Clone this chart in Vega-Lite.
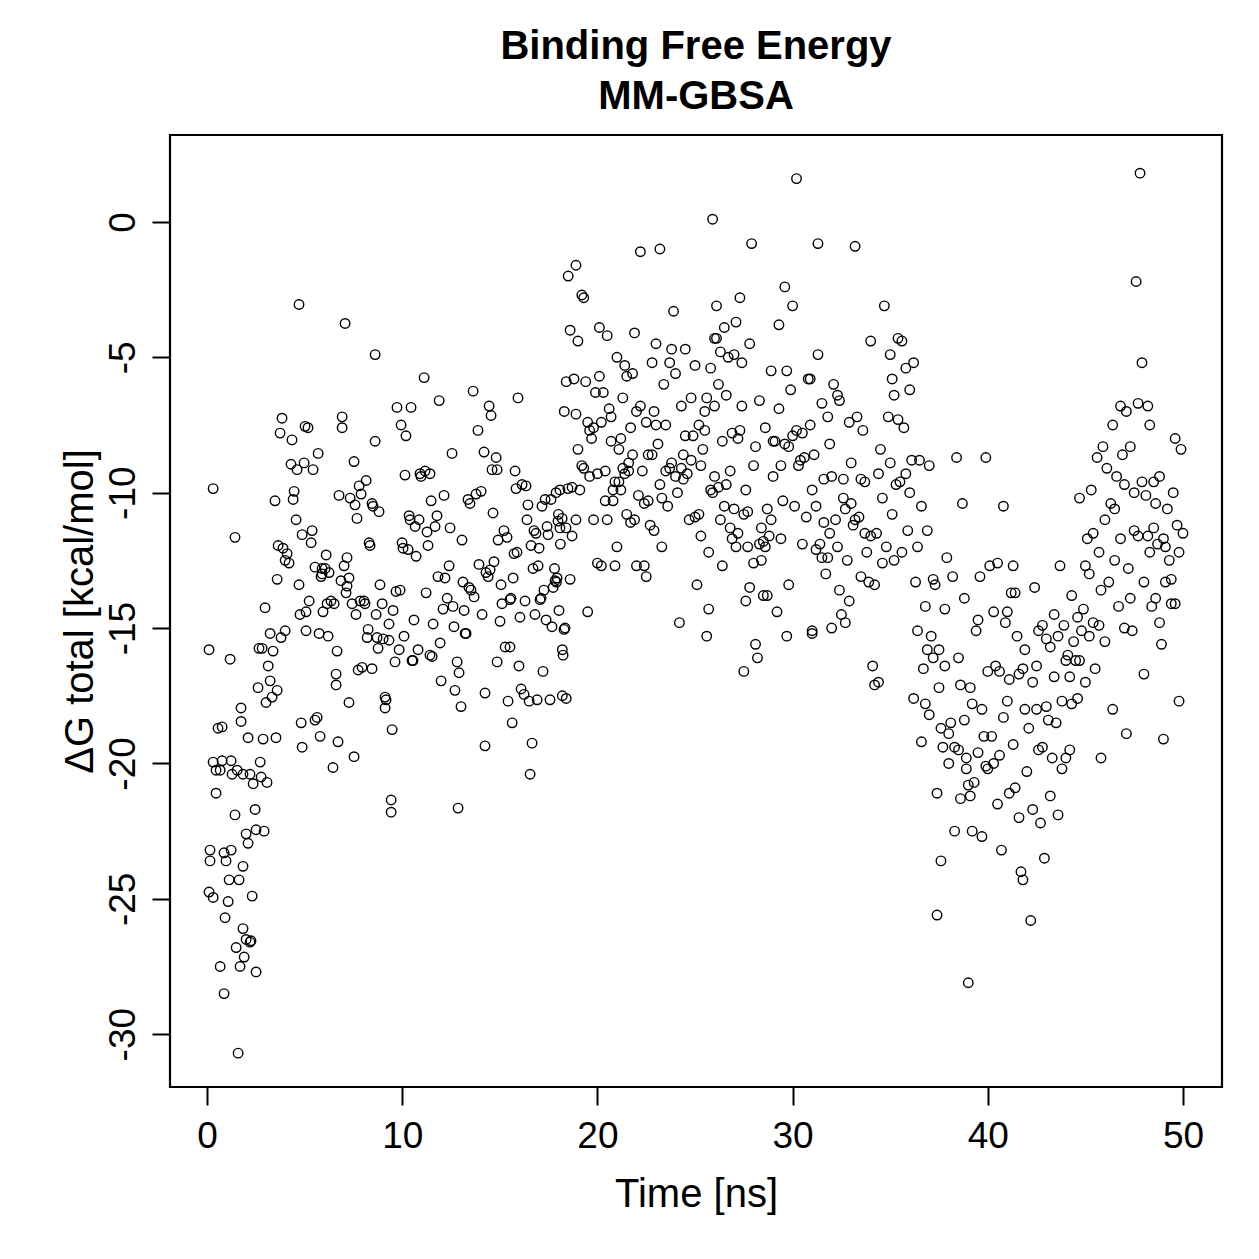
{
"$schema":"https://vega.github.io/schema/vega-lite/v6.json",
"width":1052,"height":952,
"autosize":{"type":"none"},
"padding":{"left":170,"top":135,"right":37,"bottom":172},
"background":"white",
"config":{"view":{"stroke":"black","strokeWidth":2.2},"font":"Liberation Sans"},
"title":{"text":["Binding Free Energy","MM-GBSA"],"fontSize":40,"fontWeight":"bold","font":"Liberation Sans","color":"black","anchor":"middle","lineHeight":50,"offset":18},
"data":{"values":[
{"t":0.10,"g":-15.8},{"t":0.31,"g":-9.85},{"t":0.10,"g":-24.75},{"t":0.15,"g":-23.2},{"t":0.15,"g":-23.6},{"t":0.31,"g":-24.95},{"t":0.31,"g":-19.95},{"t":0.46,"g":-20.25},{"t":0.46,"g":-21.1},{"t":0.67,"g":-20.25},{"t":0.67,"g":-27.5},{"t":0.56,"g":-18.7},{"t":0.77,"g":-18.65},{"t":0.77,"g":-19.9},{"t":0.87,"g":-28.5},{"t":0.92,"g":-25.7},{"t":0.87,"g":-23.3},{"t":0.97,"g":-23.6},{"t":1.08,"g":-25.1},{"t":1.13,"g":-24.3},{"t":1.18,"g":-16.15},{"t":1.23,"g":-23.2},{"t":1.23,"g":-19.9},{"t":1.28,"g":-20.4},{"t":1.43,"g":-11.65},{"t":1.43,"g":-21.9},{"t":1.49,"g":-26.8},{"t":1.54,"g":-20.25},{"t":1.59,"g":-30.7},{"t":1.69,"g":-27.5},{"t":1.64,"g":-24.3},{"t":1.74,"g":-18.45},{"t":1.74,"g":-17.95},{"t":1.84,"g":-26.1},{"t":1.84,"g":-23.8},{"t":2.00,"g":-22.6},{"t":1.84,"g":-20.4},{"t":1.90,"g":-27.15},{"t":2.00,"g":-26.5},{"t":2.10,"g":-22.95},{"t":2.10,"g":-19.05},{"t":2.20,"g":-20.4},{"t":2.20,"g":-26.6},{"t":2.25,"g":-26.55},{"t":2.31,"g":-24.9},{"t":2.36,"g":-20.75},{"t":2.46,"g":-21.7},{"t":2.51,"g":-22.45},{"t":2.51,"g":-27.7},{"t":2.61,"g":-17.2},{"t":2.66,"g":-15.75},{"t":2.72,"g":-19.95},{"t":2.77,"g":-20.5},{"t":2.87,"g":-19.1},{"t":2.92,"g":-22.5},{"t":2.82,"g":-15.75},{"t":2.97,"g":-14.25},{"t":3.02,"g":-17.75},{"t":3.07,"g":-20.7},{"t":3.13,"g":-16.4},{"t":3.23,"g":-15.2},{"t":3.23,"g":-16.95},{"t":3.38,"g":-15.85},{"t":3.33,"g":-17.55},{"t":3.48,"g":-10.3},{"t":3.59,"g":-17.3},{"t":3.53,"g":-19.05},{"t":3.59,"g":-13.2},{"t":3.64,"g":-11.95},{"t":3.74,"g":-7.8},{"t":3.79,"g":-15.35},{"t":3.84,"g":-7.25},{"t":3.89,"g":-12.05},{"t":4.00,"g":-12.5},{"t":4.10,"g":-12.25},{"t":4.00,"g":-15.1},{"t":4.20,"g":-12.6},{"t":4.30,"g":-8.95},{"t":4.35,"g":-8.05},{"t":4.41,"g":-10.25},{"t":4.46,"g":-9.95},{"t":4.56,"g":-11.0},{"t":4.61,"g":-9.15},{"t":4.71,"g":-3.05},{"t":4.71,"g":-13.4},{"t":4.76,"g":-14.5},{"t":4.82,"g":-18.5},{"t":4.87,"g":-11.55},{"t":4.87,"g":-19.4},{"t":4.97,"g":-8.9},{"t":5.02,"g":-7.55},{"t":5.07,"g":-15.1},{"t":5.07,"g":-14.4},{"t":5.17,"g":-7.6},{"t":5.23,"g":-14.0},{"t":5.33,"g":-11.85},{"t":5.38,"g":-11.4},{"t":5.43,"g":-9.15},{"t":5.53,"g":-18.4},{"t":5.53,"g":-12.75},{"t":5.64,"g":-18.3},{"t":5.69,"g":-8.55},{"t":5.74,"g":-15.2},{"t":5.79,"g":-19.0},{"t":5.84,"g":-13.1},{"t":5.89,"g":-13.0},{"t":5.89,"g":-12.8},{"t":5.94,"g":-14.4},{"t":6.05,"g":-12.8},{"t":6.10,"g":-12.3},{"t":6.15,"g":-14.1},{"t":6.20,"g":-15.3},{"t":6.25,"g":-12.95},{"t":6.35,"g":-14.0},{"t":6.45,"g":-20.15},{"t":6.51,"g":-14.1},{"t":6.61,"g":-16.7},{"t":6.61,"g":-17.1},{"t":6.66,"g":-15.85},{"t":6.71,"g":-19.2},{"t":6.76,"g":-10.1},{"t":6.86,"g":-13.25},{"t":6.92,"g":-7.2},{"t":6.92,"g":-7.6},{"t":7.02,"g":-12.7},{"t":7.07,"g":-3.75},{"t":7.12,"g":-13.7},{"t":7.17,"g":-13.45},{"t":7.17,"g":-12.4},{"t":7.27,"g":-13.15},{"t":7.27,"g":-17.75},{"t":7.33,"g":-10.2},{"t":7.43,"g":-14.1},{"t":7.53,"g":-8.85},{"t":7.53,"g":-19.75},{"t":7.58,"g":-10.45},{"t":7.63,"g":-14.5},{"t":7.68,"g":-10.95},{"t":7.74,"g":-16.55},{"t":7.79,"g":-9.75},{"t":7.84,"g":-14.0},{"t":7.89,"g":-10.05},{"t":7.94,"g":-16.45},{"t":8.04,"g":-14.0},{"t":8.09,"g":-14.1},{"t":8.15,"g":-9.55},{"t":8.20,"g":-15.35},{"t":8.25,"g":-15.05},{"t":8.30,"g":-11.85},{"t":8.35,"g":-11.95},{"t":8.45,"g":-10.4},{"t":8.45,"g":-16.5},{"t":8.50,"g":-10.5},{"t":8.61,"g":-4.9},{"t":8.61,"g":-8.1},{"t":8.66,"g":-14.5},{"t":8.71,"g":-15.35},{"t":8.76,"g":-15.75},{"t":8.81,"g":-10.7},{"t":8.86,"g":-13.4},{"t":8.97,"g":-14.1},{"t":9.02,"g":-15.4},{"t":9.12,"g":-17.55},{"t":9.12,"g":-17.95},{"t":9.17,"g":-17.65},{"t":9.32,"g":-14.85},{"t":9.32,"g":-15.45},{"t":9.43,"g":-21.35},{"t":9.43,"g":-21.8},{"t":9.48,"g":-18.75},{"t":9.53,"g":-14.35},{"t":9.63,"g":-16.25},{"t":9.68,"g":-13.65},{"t":9.73,"g":-6.85},{"t":9.84,"g":-15.8},{"t":9.89,"g":-13.6},{"t":9.94,"g":-7.5},{"t":9.99,"g":-11.85},{"t":10.04,"g":-12.05},{"t":10.09,"g":-15.3},{"t":10.14,"g":-9.35},{"t":10.19,"g":-7.9},{"t":10.30,"g":-12.1},{"t":10.35,"g":-10.85},{"t":10.40,"g":-11.0},{"t":10.45,"g":-6.85},{"t":10.50,"g":-16.2},{"t":10.55,"g":-16.2},{"t":10.60,"g":-14.7},{"t":10.66,"g":-11.25},{"t":10.71,"g":-12.35},{"t":10.81,"g":-15.8},{"t":10.86,"g":-11.0},{"t":10.91,"g":-9.3},{"t":10.96,"g":-9.4},{"t":11.12,"g":-5.75},{"t":11.17,"g":-9.2},{"t":11.22,"g":-13.7},{"t":11.27,"g":-11.45},{"t":11.32,"g":-11.95},{"t":11.42,"g":-9.3},{"t":11.42,"g":-16.0},{"t":11.48,"g":-10.3},{"t":11.53,"g":-16.05},{"t":11.58,"g":-14.85},{"t":11.68,"g":-11.25},{"t":11.78,"g":-10.85},{"t":11.83,"g":-13.1},{"t":11.89,"g":-6.6},{"t":11.94,"g":-15.55},{"t":11.99,"g":-16.95},{"t":12.09,"g":-14.3},{"t":12.14,"g":-10.1},{"t":12.19,"g":-13.15},{"t":12.30,"g":-13.9},{"t":12.40,"g":-12.7},{"t":12.45,"g":-11.3},{"t":12.55,"g":-8.55},{"t":12.60,"g":-14.2},{"t":12.65,"g":-14.95},{"t":12.70,"g":-17.3},{"t":12.81,"g":-16.25},{"t":12.86,"g":-21.65},{"t":12.91,"g":-16.65},{"t":13.01,"g":-17.9},{"t":13.06,"g":-11.75},{"t":13.11,"g":-13.3},{"t":13.17,"g":-14.35},{"t":13.22,"g":-15.2},{"t":13.27,"g":-15.2},{"t":13.37,"g":-10.25},{"t":13.42,"g":-13.5},{"t":13.47,"g":-10.4},{"t":13.52,"g":-13.6},{"t":13.63,"g":-6.25},{"t":13.68,"g":-13.85},{"t":13.78,"g":-10.05},{"t":13.88,"g":-7.7},{"t":13.93,"g":-12.65},{"t":14.04,"g":-9.95},{"t":14.09,"g":-14.5},{"t":14.19,"g":-8.5},{"t":14.24,"g":-19.35},{"t":14.24,"g":-17.4},{"t":14.29,"g":-12.95},{"t":14.40,"g":-13.1},{"t":14.45,"g":-6.8},{"t":14.50,"g":-12.85},{"t":14.55,"g":-7.15},{"t":14.60,"g":-9.15},{"t":14.65,"g":-10.75},{"t":14.70,"g":-12.55},{"t":14.81,"g":-8.7},{"t":14.86,"g":-9.15},{"t":14.86,"g":-16.25},{"t":14.91,"g":-11.75},{"t":15.01,"g":-14.75},{"t":15.06,"g":-13.4},{"t":15.11,"g":-14.1},{"t":15.21,"g":-11.4},{"t":15.27,"g":-15.7},{"t":15.37,"g":-11.65},{"t":15.42,"g":-17.7},{"t":15.52,"g":-13.95},{"t":15.52,"g":-15.7},{"t":15.57,"g":-13.9},{"t":15.63,"g":-18.5},{"t":15.68,"g":-13.15},{"t":15.73,"g":-12.25},{"t":15.78,"g":-9.2},{"t":15.83,"g":-9.85},{"t":15.88,"g":-12.2},{"t":15.93,"g":-6.5},{"t":15.98,"g":-16.4},{"t":16.03,"g":-14.6},{"t":16.09,"g":-17.25},{"t":16.14,"g":-9.7},{"t":16.24,"g":-17.45},{"t":16.29,"g":-14.0},{"t":16.34,"g":-9.75},{"t":16.39,"g":-11.0},{"t":16.44,"g":-10.45},{"t":16.50,"g":-17.7},{"t":16.55,"g":-20.4},{"t":16.60,"g":-11.95},{"t":16.65,"g":-19.25},{"t":16.70,"g":-12.8},{"t":16.75,"g":-11.4},{"t":16.80,"g":-14.5},{"t":16.85,"g":-11.5},{"t":16.91,"g":-17.65},{"t":16.96,"g":-12.7},{"t":17.01,"g":-12.05},{"t":17.06,"g":-13.95},{"t":17.11,"g":-13.9},{"t":17.16,"g":-10.5},{"t":17.21,"g":-16.6},{"t":17.26,"g":-13.6},{"t":17.32,"g":-10.25},{"t":17.37,"g":-14.7},{"t":17.42,"g":-11.25},{"t":17.47,"g":-11.55},{"t":17.57,"g":-17.65},{"t":17.62,"g":-10.25},{"t":17.67,"g":-14.95},{"t":17.73,"g":-13.5},{"t":17.83,"g":-13.25},{"t":17.88,"g":-10.0},{"t":17.93,"g":-13.15},{"t":17.98,"g":-11.05},{"t":18.03,"g":-14.35},{"t":18.08,"g":-11.3},{"t":18.08,"g":-9.9},{"t":18.19,"g":-10.95},{"t":18.24,"g":-16.0},{"t":18.29,"g":-15.05},{"t":18.34,"g":-15.0},{"t":18.39,"g":-11.3},{"t":18.49,"g":-9.85},
{"t":18.3,"g":-7.0},{"t":18.4,"g":-5.9},{"t":18.5,"g":-2.0},{"t":18.6,"g":-4.0},{"t":18.7,"g":-11.6},{"t":18.8,"g":-5.8},{"t":18.9,"g":-1.6},{"t":18.9,"g":-7.1},{"t":19.0,"g":-4.4},{"t":19.1,"g":-9.9},{"t":19.2,"g":-2.7},{"t":19.3,"g":-2.8},{"t":19.3,"g":-9.1},{"t":19.4,"g":-5.9},{"t":19.5,"g":-7.4},{"t":19.5,"g":-14.4},{"t":19.6,"g":-9.4},{"t":19.6,"g":-7.7},{"t":19.7,"g":-8.0},{"t":19.8,"g":-11.0},{"t":19.8,"g":-7.6},{"t":19.9,"g":-6.3},{"t":20.0,"g":-12.6},{"t":18.2,"g":-15.8},{"t":18.0,"g":-10.8},{"t":18.1,"g":-11.9},{"t":17.9,"g":-13.3},{"t":17.8,"g":-12.8},{"t":18.6,"g":-13.2},{"t":18.4,"g":-17.6},{"t":18.2,"g":-17.5},{"t":19.2,"g":-9.0},{"t":18.9,"g":-11.0},{"t":18.7,"g":-9.8},{"t":19.0,"g":-8.4},{"t":20.0,"g":-9.3},
{"t":20.1,"g":-3.9},{"t":20.1,"g":-5.7},{"t":20.2,"g":-7.4},{"t":20.2,"g":-12.7},{"t":20.3,"g":-6.3},{"t":20.4,"g":-10.3},{"t":20.4,"g":-9.2},{"t":20.5,"g":-11.0},{"t":20.5,"g":-4.2},{"t":20.6,"g":-6.9},{"t":20.7,"g":-8.1},{"t":20.7,"g":-7.2},{"t":20.8,"g":-9.9},{"t":20.8,"g":-10.3},{"t":20.9,"g":-9.6},{"t":21.0,"g":-5.0},{"t":21.0,"g":-12.0},{"t":21.1,"g":-9.6},{"t":21.1,"g":-8.4},{"t":21.2,"g":-8.0},{"t":21.3,"g":-6.5},{"t":21.3,"g":-9.1},{"t":21.4,"g":-5.3},{"t":21.4,"g":-9.3},{"t":21.5,"g":-10.8},{"t":21.5,"g":-5.7},{"t":21.6,"g":-9.2},{"t":21.7,"g":-11.1},{"t":21.7,"g":-7.6},{"t":21.8,"g":-8.6},{"t":21.9,"g":-4.1},{"t":21.9,"g":-11.0},{"t":22.0,"g":-7.0},{"t":22.0,"g":-12.7},{"t":20.9,"g":-12.7},{"t":21.2,"g":-9.9},{"t":21.6,"g":-8.9},{"t":21.8,"g":-5.6},
{"t":22.1,"g":-10.1},{"t":22.2,"g":-1.1},{"t":22.2,"g":-6.8},{"t":22.3,"g":-9.2},{"t":22.4,"g":-10.4},{"t":22.4,"g":-12.7},{"t":22.5,"g":-7.4},{"t":22.5,"g":-13.1},{"t":22.6,"g":-8.6},{"t":22.7,"g":-11.2},{"t":22.8,"g":-5.2},{"t":22.8,"g":-8.6},{"t":22.9,"g":-11.4},{"t":23.0,"g":-4.5},{"t":23.0,"g":-7.5},{"t":23.1,"g":-8.2},{"t":23.2,"g":-1.0},{"t":23.2,"g":-9.7},{"t":23.3,"g":-10.2},{"t":23.4,"g":-6.0},{"t":23.5,"g":-7.5},{"t":23.5,"g":-9.2},{"t":23.6,"g":-10.5},{"t":23.7,"g":-5.2},{"t":23.8,"g":-4.7},{"t":23.8,"g":-8.9},{"t":23.9,"g":-3.3},{"t":24.0,"g":-9.4},{"t":24.0,"g":-5.6},{"t":24.1,"g":-10.0},{"t":22.6,"g":-10.3},{"t":23.3,"g":-12.0},{"t":23.7,"g":-9.1},{"t":22.9,"g":-7.0},
{"t":24.2,"g":-14.8},{"t":24.3,"g":-9.1},{"t":24.3,"g":-6.8},{"t":24.4,"g":-9.5},{"t":24.5,"g":-4.7},{"t":24.5,"g":-7.9},{"t":24.6,"g":-9.3},{"t":24.7,"g":-11.0},{"t":24.8,"g":-8.8},{"t":24.9,"g":-7.9},{"t":25.0,"g":-5.3},{"t":25.0,"g":-10.9},{"t":25.1,"g":-13.4},{"t":25.2,"g":-7.5},{"t":25.2,"g":-10.8},{"t":25.3,"g":-9.0},{"t":25.4,"g":-8.4},{"t":25.5,"g":-7.0},{"t":25.6,"g":-6.5},{"t":25.6,"g":-15.3},{"t":25.7,"g":-12.2},{"t":25.7,"g":-14.3},{"t":25.8,"g":-9.9},{"t":25.8,"g":-5.4},{"t":25.9,"g":0.1},{"t":25.9,"g":-10.0},{"t":26.0,"g":-6.8},{"t":26.0,"g":-9.4},{"t":24.4,"g":-8.6},{"t":24.8,"g":-6.5},{"t":25.3,"g":-11.6},{"t":25.5,"g":-7.7},{"t":26.0,"g":-4.3},
{"t":26.1,"g":-3.1},{"t":26.1,"g":-4.3},{"t":26.2,"g":-9.8},{"t":26.3,"g":-11.0},{"t":26.3,"g":-4.8},{"t":26.4,"g":-8.1},{"t":26.4,"g":-12.7},{"t":26.5,"g":-3.9},{"t":26.6,"g":-6.4},{"t":26.6,"g":-9.7},{"t":26.7,"g":-5.0},{"t":26.8,"g":-9.2},{"t":26.8,"g":-11.3},{"t":26.9,"g":-7.8},{"t":27.0,"g":-4.9},{"t":27.0,"g":-10.6},{"t":27.1,"g":-3.7},{"t":27.1,"g":-12.0},{"t":27.2,"g":-8.0},{"t":27.2,"g":-11.5},{"t":27.3,"g":-2.8},{"t":27.3,"g":-7.7},{"t":27.4,"g":-5.2},{"t":27.5,"g":-16.6},{"t":27.5,"g":-10.8},{"t":27.6,"g":-14.0},{"t":27.7,"g":-12.0},{"t":27.7,"g":-10.7},{"t":27.8,"g":-13.5},{"t":27.8,"g":-4.5},{"t":27.9,"g":-0.8},{"t":28.0,"g":-9.0},{"t":28.0,"g":-12.6},{"t":28.1,"g":-8.3},{"t":26.2,"g":-6.0},{"t":26.5,"g":-10.5},{"t":26.9,"g":-11.7},{"t":27.4,"g":-6.8},{"t":27.6,"g":-9.9},
{"t":28.1,"g":-15.6},{"t":28.2,"g":-16.1},{"t":28.3,"g":-11.9},{"t":28.3,"g":-6.6},{"t":28.4,"g":-11.3},{"t":28.5,"g":-13.8},{"t":28.5,"g":-11.8},{"t":28.6,"g":-7.6},{"t":28.7,"g":-10.6},{"t":28.7,"g":-13.8},{"t":28.8,"g":-11.6},{"t":28.9,"g":-5.5},{"t":28.9,"g":-11.0},{"t":29.0,"g":-8.1},{"t":29.1,"g":-8.1},{"t":29.2,"g":-14.4},{"t":29.3,"g":-3.8},{"t":29.3,"g":-6.9},{"t":29.4,"g":-9.0},{"t":29.5,"g":-10.3},{"t":29.6,"g":-2.4},{"t":29.6,"g":-8.2},{"t":29.7,"g":-5.5},{"t":29.7,"g":-15.3},{"t":29.8,"g":-13.4},{"t":29.9,"g":-6.2},{"t":30.0,"g":-3.1},{"t":30.0,"g":-7.9},{"t":30.1,"g":-10.5},{"t":28.6,"g":-12.0},{"t":29.0,"g":-9.4},{"t":29.4,"g":-11.7},{"t":29.8,"g":-8.3},{"t":28.4,"g":-12.5},
{"t":30.2,"g":1.6},{"t":30.2,"g":-7.7},{"t":30.3,"g":-9.0},{"t":30.4,"g":-8.8},{"t":30.5,"g":-11.9},{"t":30.5,"g":-7.8},{"t":30.6,"g":-8.7},{"t":30.7,"g":-10.9},{"t":30.8,"g":-5.8},{"t":30.9,"g":-5.8},{"t":31.0,"g":-15.1},{"t":31.0,"g":-15.2},{"t":31.1,"g":-8.6},{"t":31.2,"g":-12.1},{"t":31.3,"g":-0.8},{"t":31.3,"g":-4.9},{"t":31.4,"g":-11.9},{"t":31.5,"g":-6.7},{"t":31.6,"g":-9.5},{"t":31.7,"g":-13.0},{"t":31.8,"g":-12.4},{"t":31.8,"g":-7.2},{"t":31.9,"g":-8.2},{"t":32.0,"g":-9.4},{"t":32.0,"g":-15.0},{"t":31.0,"g":-9.9},{"t":31.2,"g":-10.5},{"t":31.6,"g":-11.1},{"t":31.9,"g":-11.5},{"t":30.9,"g":-7.5},{"t":31.5,"g":-12.4},
{"t":32.1,"g":-6.0},{"t":32.2,"g":-11.0},{"t":32.3,"g":-6.4},{"t":32.3,"g":-12.0},{"t":32.4,"g":-6.6},{"t":32.4,"g":-13.6},{"t":32.5,"g":-14.5},{"t":32.6,"g":-9.5},{"t":32.7,"g":-14.8},{"t":32.7,"g":-10.6},{"t":32.8,"g":-12.5},{"t":32.9,"g":-7.4},{"t":33.0,"g":-8.9},{"t":33.0,"g":-10.4},{"t":33.1,"g":-11.2},{"t":33.2,"g":-11.0},{"t":33.2,"g":-0.9},{"t":33.3,"g":-7.2},{"t":33.4,"g":-10.9},{"t":33.5,"g":-9.5},{"t":33.6,"g":-7.7},{"t":33.7,"g":-9.6},{"t":33.8,"g":-12.2},{"t":33.9,"g":-13.3},{"t":34.0,"g":-11.6},{"t":34.0,"g":-4.4},{"t":33.5,"g":-13.1},{"t":32.9,"g":-14.0},{"t":32.6,"g":-10.2},{"t":33.7,"g":-11.5},
{"t":34.1,"g":-16.4},{"t":34.2,"g":-17.1},{"t":34.2,"g":-13.4},{"t":34.3,"g":-11.5},{"t":34.4,"g":-9.3},{"t":34.4,"g":-17.0},{"t":34.5,"g":-8.4},{"t":34.6,"g":-10.2},{"t":34.7,"g":-3.1},{"t":34.8,"g":-12.0},{"t":34.9,"g":-7.2},{"t":35.0,"g":-8.9},{"t":35.0,"g":-4.9},{"t":35.1,"g":-10.8},{"t":35.2,"g":-6.4},{"t":35.2,"g":-12.5},{"t":35.3,"g":-9.7},{"t":35.4,"g":-4.3},{"t":35.4,"g":-7.3},{"t":35.5,"g":-9.6},{"t":35.6,"g":-12.2},{"t":35.7,"g":-7.6},{"t":35.8,"g":-9.3},{"t":35.8,"g":-5.4},{"t":35.9,"g":-11.4},{"t":36.0,"g":-6.2},{"t":36.1,"g":-8.8},{"t":34.6,"g":-12.6},{"t":35.1,"g":-5.8},{"t":35.6,"g":-4.4},{"t":36.0,"g":-10.0},
{"t":36.2,"g":-5.2},{"t":36.2,"g":-17.6},{"t":36.3,"g":-13.3},{"t":36.4,"g":-15.1},{"t":36.5,"g":-8.8},{"t":36.6,"g":-10.5},{"t":36.6,"g":-19.2},{"t":36.7,"g":-16.5},{"t":36.8,"g":-14.2},{"t":36.8,"g":-17.8},{"t":36.9,"g":-11.4},{"t":37.0,"g":-9.0},{"t":37.0,"g":-18.2},{"t":37.1,"g":-15.3},{"t":37.2,"g":-13.2},{"t":37.2,"g":-16.1},{"t":37.3,"g":-13.4},{"t":37.4,"g":-25.6},{"t":37.4,"g":-21.1},{"t":37.5,"g":-15.8},{"t":37.6,"g":-18.7},{"t":37.6,"g":-23.6},{"t":37.7,"g":-19.4},{"t":37.8,"g":-14.3},{"t":37.8,"g":-16.4},{"t":37.9,"g":-12.4},{"t":38.0,"g":-18.9},{"t":38.0,"g":-20.0},{"t":36.4,"g":-12.0},{"t":36.9,"g":-15.8},{"t":37.5,"g":-17.2},{"t":38.1,"g":-18.5},
{"t":38.2,"g":-13.1},{"t":38.3,"g":-19.4},{"t":38.3,"g":-22.5},{"t":38.4,"g":-8.7},{"t":38.5,"g":-16.1},{"t":38.5,"g":-19.5},{"t":38.6,"g":-21.3},{"t":38.7,"g":-10.4},{"t":38.8,"g":-18.4},{"t":38.8,"g":-13.9},{"t":38.9,"g":-20.2},{"t":39.0,"g":-28.1},{"t":39.0,"g":-20.8},{"t":39.1,"g":-17.2},{"t":39.2,"g":-22.5},{"t":39.2,"g":-17.8},{"t":39.3,"g":-20.7},{"t":39.4,"g":-15.1},{"t":39.5,"g":-14.7},{"t":39.5,"g":-19.6},{"t":39.6,"g":-13.1},{"t":39.7,"g":-22.7},{"t":39.8,"g":-19.0},{"t":39.9,"g":-8.7},{"t":39.9,"g":-20.1},{"t":40.0,"g":-16.6},{"t":40.0,"g":-20.2},{"t":38.6,"g":-17.1},{"t":39.1,"g":-21.2},{"t":39.7,"g":-18.0},{"t":38.9,"g":-19.8},{"t":40.1,"g":-12.7},
{"t":40.2,"g":-19.0},{"t":40.3,"g":-14.4},{"t":40.3,"g":-20.0},{"t":40.4,"g":-16.4},{"t":40.5,"g":-21.5},{"t":40.6,"g":-16.6},{"t":40.6,"g":-19.7},{"t":40.7,"g":-23.2},{"t":40.8,"g":-10.5},{"t":40.8,"g":-18.3},{"t":40.9,"g":-14.8},{"t":41.0,"g":-17.7},{"t":41.1,"g":-21.1},{"t":41.1,"g":-16.9},{"t":41.2,"g":-13.7},{"t":41.3,"g":-19.3},{"t":41.3,"g":-12.7},{"t":41.4,"g":-20.9},{"t":41.5,"g":-15.3},{"t":41.6,"g":-16.7},{"t":41.6,"g":-22.0},{"t":41.7,"g":-24.0},{"t":41.8,"g":-24.3},{"t":41.8,"g":-16.5},{"t":41.9,"g":-15.8},{"t":42.0,"g":-20.3},{"t":40.5,"g":-12.6},{"t":41.0,"g":-14.4},{"t":41.4,"g":-13.7},{"t":41.9,"g":-18.0},
{"t":42.1,"g":-18.7},{"t":42.2,"g":-25.8},{"t":42.3,"g":-21.7},{"t":42.3,"g":-17.0},{"t":42.4,"g":-13.5},{"t":42.5,"g":-16.4},{"t":42.6,"g":-19.5},{"t":42.6,"g":-15.1},{"t":42.7,"g":-22.2},{"t":42.8,"g":-19.4},{"t":42.9,"g":-23.5},{"t":43.0,"g":-15.4},{"t":43.0,"g":-17.9},{"t":43.1,"g":-18.4},{"t":43.2,"g":-15.7},{"t":43.2,"g":-21.2},{"t":43.3,"g":-19.8},{"t":43.4,"g":-14.5},{"t":43.5,"g":-18.5},{"t":43.6,"g":-15.3},{"t":43.6,"g":-21.9},{"t":43.7,"g":-12.7},{"t":43.8,"g":-17.7},{"t":43.8,"g":-20.2},{"t":43.9,"g":-14.9},{"t":44.0,"g":-16.2},{"t":42.8,"g":-14.9},{"t":43.4,"g":-16.8},{"t":44.0,"g":-19.8},{"t":42.5,"g":-18.0},
{"t":44.1,"g":-16.0},{"t":44.2,"g":-19.5},{"t":44.3,"g":-13.8},{"t":44.3,"g":-17.8},{"t":44.4,"g":-15.5},{"t":44.5,"g":-16.2},{"t":44.6,"g":-14.6},{"t":44.7,"g":-10.2},{"t":44.7,"g":-16.2},{"t":44.8,"g":-15.1},{"t":44.9,"g":-14.3},{"t":45.0,"g":-12.7},{"t":45.0,"g":-17.0},{"t":45.1,"g":-11.7},{"t":45.2,"g":-15.3},{"t":45.3,"g":-9.9},{"t":45.4,"g":-14.8},{"t":45.4,"g":-11.5},{"t":45.5,"g":-16.5},{"t":45.6,"g":-8.7},{"t":45.7,"g":-12.2},{"t":45.8,"g":-19.8},{"t":45.8,"g":-13.6},{"t":45.9,"g":-8.3},{"t":46.0,"g":-11.0},{"t":44.6,"g":-17.6},{"t":45.2,"g":-13.0},{"t":45.7,"g":-14.9},{"t":46.0,"g":-15.5},{"t":44.2,"g":-16.8},
{"t":46.1,"g":-9.1},{"t":46.2,"g":-13.3},{"t":46.3,"g":-10.4},{"t":46.4,"g":-18.0},{"t":46.4,"g":-7.5},{"t":46.5,"g":-12.5},{"t":46.6,"g":-9.4},{"t":46.7,"g":-14.2},{"t":46.8,"g":-6.8},{"t":46.8,"g":-11.7},{"t":46.9,"g":-8.6},{"t":47.0,"g":-15.0},{"t":47.0,"g":-9.7},{"t":47.1,"g":-18.9},{"t":47.2,"g":-12.8},{"t":47.3,"g":-13.9},{"t":47.3,"g":-8.3},{"t":47.4,"g":-15.1},{"t":47.5,"g":-11.4},{"t":47.6,"g":-2.2},{"t":47.7,"g":-6.7},{"t":47.7,"g":-11.6},{"t":47.8,"g":1.8},{"t":47.9,"g":-5.2},{"t":47.9,"g":-9.6},{"t":48.0,"g":-13.3},{"t":46.5,"g":-10.6},{"t":47.1,"g":-7.0},{"t":47.5,"g":-10.0},{"t":48.0,"g":-16.7},
{"t":48.1,"g":-10.1},{"t":48.2,"g":-11.6},{"t":48.3,"g":-12.2},{"t":48.3,"g":-7.5},{"t":48.4,"g":-14.2},{"t":48.5,"g":-11.3},{"t":48.5,"g":-9.6},{"t":48.6,"g":-13.9},{"t":48.7,"g":-11.9},{"t":48.8,"g":-14.8},{"t":48.8,"g":-9.4},{"t":48.9,"g":-15.6},{"t":49.0,"g":-11.7},{"t":49.0,"g":-19.1},{"t":49.1,"g":-13.3},{"t":49.2,"g":-10.6},{"t":49.3,"g":-12.5},{"t":49.4,"g":-13.2},{"t":49.5,"g":-10.0},{"t":49.6,"g":-14.1},{"t":49.6,"g":-8.0},{"t":49.7,"g":-11.2},{"t":49.8,"g":-12.2},{"t":49.8,"g":-17.7},{"t":49.9,"g":-8.4},{"t":50.0,"g":-11.5},{"t":48.2,"g":-6.8},{"t":48.6,"g":-10.4},{"t":49.1,"g":-12.0},{"t":49.4,"g":-14.1}
]},
"mark":{"type":"point","shape":"circle","filled":false,"color":"black","size":90,"strokeWidth":1.4,"opacity":1},
"encoding":{
"x":{"field":"t","type":"quantitative","scale":{"domain":[-1.9,52.0],"nice":false,"zero":false},
 "axis":{"values":[0,10,20,30,40,50],"domain":false,"grid":false,"tickColor":"black","tickSize":18,"tickWidth":2,"labelFont":"Liberation Sans","labelFontSize":37,"labelColor":"black","labelPadding":13,"labelFlush":false,"title":"Time [ns]","titleFont":"Liberation Sans","titleFontSize":40,"titleFontWeight":"normal","titleColor":"black","titlePadding":20}},
"y":{"field":"g","type":"quantitative","scale":{"domain":[-31.95,3.21],"nice":false,"zero":false},
 "axis":{"values":[-30,-25,-20,-15,-10,-5,0],"labelExpr":"'' + datum.value","domain":false,"grid":false,"tickColor":"black","tickSize":18,"tickWidth":2,"labelFont":"Liberation Sans","labelFontSize":37,"labelColor":"black","labelAngle":-90,"labelAlign":"center","labelBaseline":"bottom","labelPadding":10,"labelFlush":false,"title":"ΔG total [kcal/mol]","titleFont":"Liberation Sans","titleFontSize":40,"titleFontWeight":"normal","titleColor":"black","titlePadding":4}}
}
}
